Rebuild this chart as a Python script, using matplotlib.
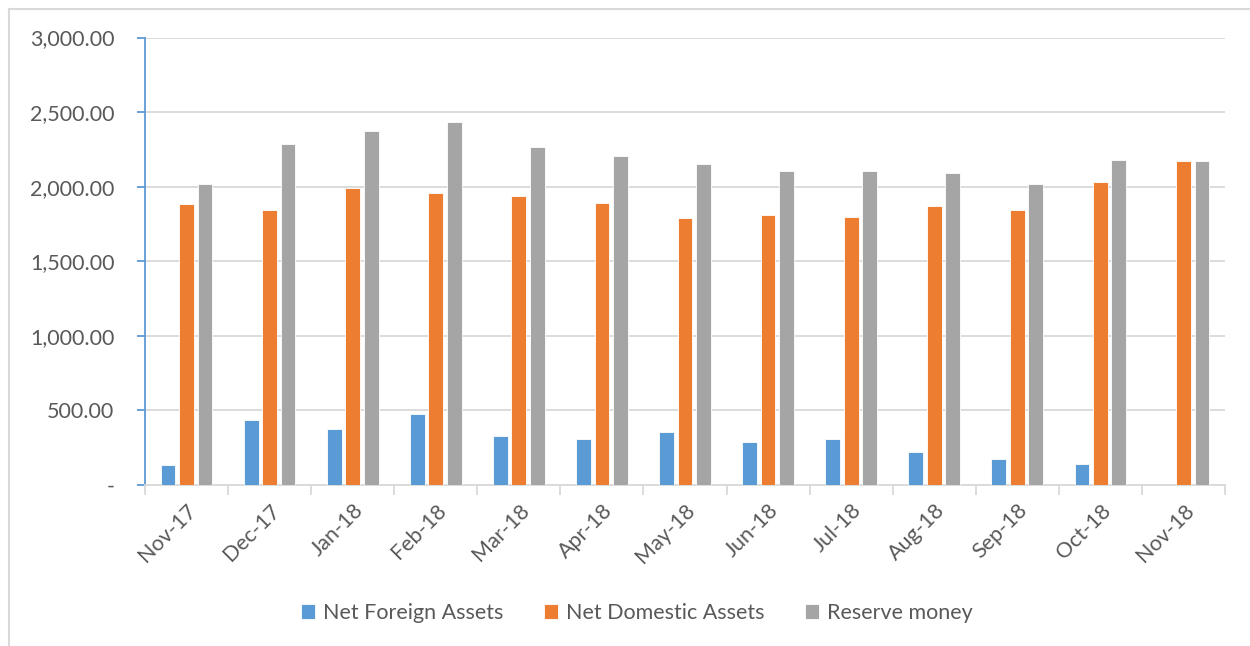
import matplotlib.pyplot as plt
import matplotlib.lines as mlines
import numpy as np

months = ["Nov-17", "Dec-17", "Jan-18", "Feb-18", "Mar-18", "Apr-18", "May-18",
          "Jun-18", "Jul-18", "Aug-18", "Sep-18", "Oct-18", "Nov-18"]
net_foreign = [134, 436, 375, 476, 328, 308, 355, 288, 308, 221, 174, 141, 0]
net_domestic = [1883, 1843, 1990, 1956, 1936, 1889, 1789, 1809, 1796, 1869, 1843, 2030, 2171]
reserve_money = [2017, 2285, 2372, 2432, 2265, 2204, 2150, 2104, 2104, 2090, 2017, 2178, 2171]

plt.rcParams['font.family'] = ['Lato', 'DejaVu Sans']
txt = '#595959'
fs = 15.5

fig = plt.figure(figsize=(12.5, 6.46), dpi=100)
ax = fig.add_axes([145/1250, 1-485/646, 1080/1250, 447.5/646])

# outer frame (only top and left edge visible in the reference)
fig.add_artist(mlines.Line2D([9/1250, 1], [1-9/646, 1-9/646], color='#d9d9d9', lw=1.5))
fig.add_artist(mlines.Line2D([9/1250, 9/1250], [0, 1-9/646], color='#d9d9d9', lw=1.5))

x = np.arange(len(months))
w = 0.178
step = 0.222
ax.bar(x - step, net_foreign, w, color='#5b9bd5', edgecolor='white', lw=0.6, label='Net Foreign Assets', zorder=3)
ax.bar(x, net_domestic, w, color='#ed7d31', edgecolor='white', lw=0.6, label='Net Domestic Assets', zorder=3)
ax.bar(x + step, reserve_money, w, color='#a5a5a5', edgecolor='white', lw=0.6, label='Reserve money', zorder=3)

ax.set_xlim(-0.5, len(months) - 0.5)
ax.set_ylim(0, 3000)
ax.set_yticks(np.arange(0, 3001, 500))
ax.set_yticklabels(['-'] + [f"{v:,.2f}" for v in np.arange(500, 3001, 500)],
                   fontsize=fs, color=txt)
ax.yaxis.grid(True, color='#d9d9d9', lw=1.3, zorder=0)

ax.set_xticks(x)
ax.set_xticklabels(months, rotation=45, ha='right', rotation_mode='anchor',
                   fontsize=fs, color=txt)
ax.set_xticks(np.arange(-0.5, len(months)), minor=True)
ax.tick_params(axis='x', which='major', length=0, pad=11)
ax.tick_params(axis='x', which='minor', length=7, color='#d9d9d9', width=1.3)
ax.tick_params(axis='y', length=6, color='#5b9bd5', width=1.3, pad=16)

for s in ['top', 'right']:
    ax.spines[s].set_visible(False)
ax.spines['left'].set_color('#5b9bd5')
ax.spines['left'].set_linewidth(1.3)
ax.spines['bottom'].set_color('#d9d9d9')
ax.spines['bottom'].set_linewidth(1.3)

fig.legend(loc='center', bbox_to_anchor=(637/1250, 1-613/646), ncol=3, frameon=False,
           fontsize=fs, labelcolor=txt, handlelength=0.65, handleheight=0.65,
           handletextpad=0.35, columnspacing=1.9)

fig.savefig('out.png', dpi=100)
